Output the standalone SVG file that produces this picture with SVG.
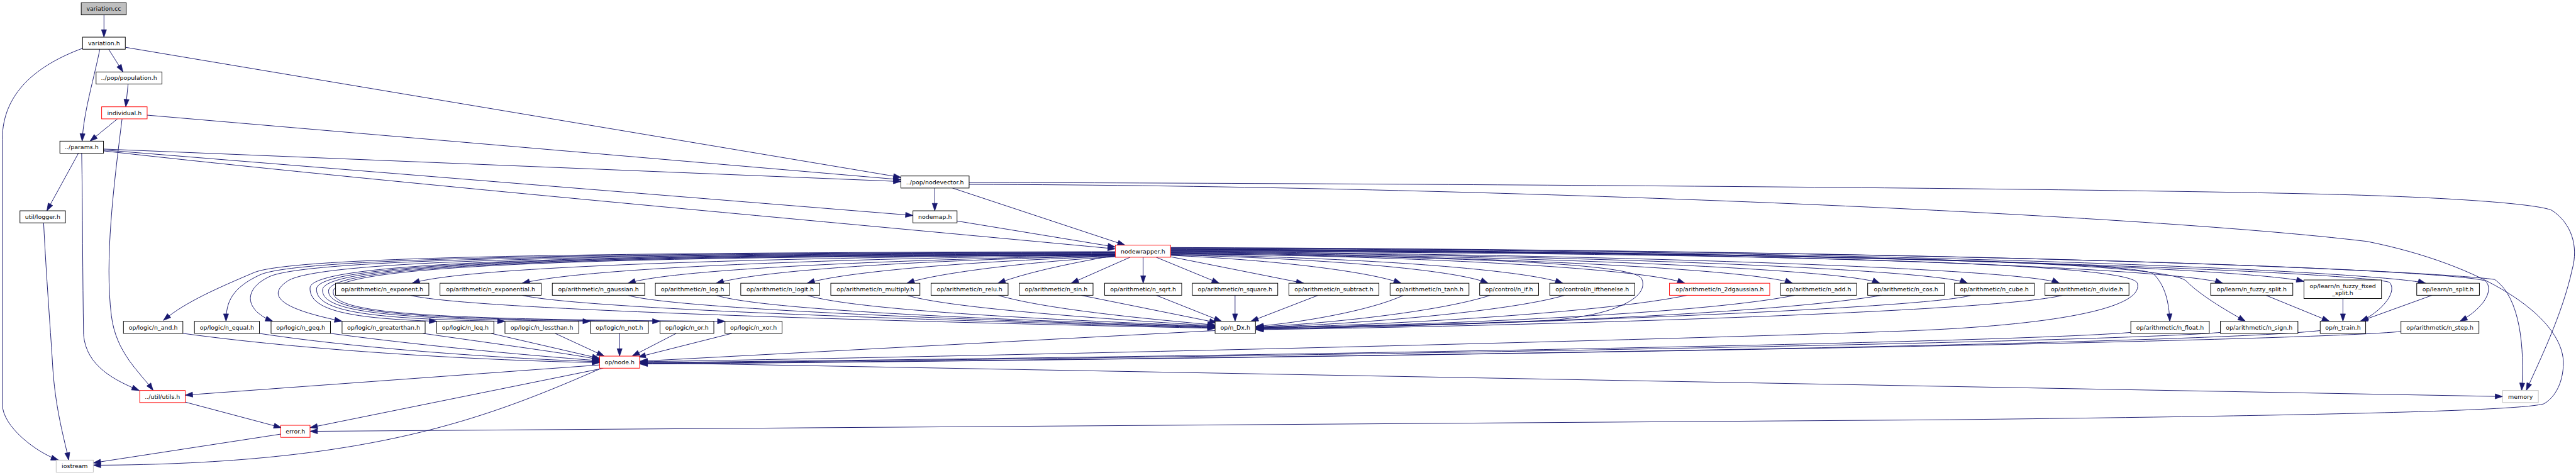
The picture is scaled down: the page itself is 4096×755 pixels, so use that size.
<svg xmlns="http://www.w3.org/2000/svg" width="4096" height="755" viewBox="0 0 4096 755">
<defs>
<style>
.e path{fill:none;stroke:#191970;stroke-width:1.3;marker-end:url(#ah)}
.nd rect{fill:#fff;stroke:#000;stroke-width:1.3}
.nd.red rect{stroke:#ff0000}
.nd.gray rect{stroke:#bfbfbf}
.nd.root rect{fill:#bfbfbf}
.nd text{font-family:"DejaVu Sans","Liberation Sans",sans-serif;font-size:12.8px;text-anchor:middle;fill:#000}
</style>
<marker id="ah" markerUnits="userSpaceOnUse" markerWidth="18" markerHeight="12" refX="16" refY="5.5" orient="auto" overflow="visible">
<path d="M0,0 L16,5.5 L0,11 z" fill="#191970" stroke="#191970" stroke-width="1"/>
</marker>
</defs>
<rect width="4096" height="755" fill="#fff"/>
<g transform="scale(0.738)">
<g id="edges" class="e">
<path d="M224,32 L224,80"/>
<path d="M234,106 L265,155"/>
<path d="M215,106 C205,160 180,240 177,304"/>
<path d="M178,104 C80,140 5,200 5,300 L5,870 C5,920 80,975 126,991"/>
<path d="M271,102 L1941,382"/>
<path d="M276,181 L271,230"/>
<path d="M253,256 L194,304"/>
<path d="M263,256 C245,400 225,560 240,680 C250,760 300,800 330,841"/>
<path d="M317,248 L1941,387"/>
<path d="M169,330 L101,454"/>
<path d="M176,330 C178,450 178,600 180,720 C185,790 250,820 300,841"/>
<path d="M223,321 L1941,391"/>
<path d="M223,323 L1967,464"/>
<path d="M223,325 C800,390 1700,470 2403,536"/>
<path d="M94,480 C100,600 108,700 113,780 C118,880 140,950 148,991"/>
<path d="M2014,405 L2014,454"/>
<path d="M2052,405 L2424,528"/>
<path d="M2088,393 C3000,395 4500,405 5040,419 C5300,426 5470,440 5498,453 C5540,480 5556,530 5542,580 C5520,680 5470,780 5443,841"/>
<path d="M2088,397 C3200,400 4600,460 5100,520 C5350,570 5520,680 5523,780 C5523,830 5500,860 5480,870 C5420,885 5000,895 4200,904 L668,929"/>
<path d="M2062,476 L2403,532"/>
<!-- nodewrapper to logic -->
<path d="M2403,542 C1300,544 620,552 545,588 C470,620 400,650 352,690"/>
<path d="M2403,543 C1300,545 640,555 560,592 C500,620 487,650 487,692"/>
<path d="M2403,544 C1300,546 660,558 580,596 C520,625 530,670 588,692"/>
<path d="M2403,545 C1300,547 690,560 620,605 C560,645 640,672 737,692"/>
<path d="M2403,546 C1300,548 670,562 668,620 C666,670 760,686 941,692"/>
<path d="M2403,547 C1300,549 685,564 682,622 C680,672 800,687 1088,692"/>
<path d="M2403,548 C1300,550 698,566 695,624 C692,674 850,688 1272,692"/>
<path d="M2403,549 C1300,551 710,568 708,626 C705,676 900,688 1422,692"/>
<path d="M2403,550 C1300,552 720,570 718,628 C715,678 950,688 1562,692"/>
<!-- nodewrapper to row A left -->
<path d="M2403,548 C1600,555 1000,575 888,610"/>
<path d="M2403,549 C1700,558 1250,580 1125,610"/>
<path d="M2403,550 C1900,560 1450,580 1353,610"/>
<path d="M2403,551 C2000,560 1650,580 1543,610"/>
<path d="M2403,552 C2100,562 1820,585 1739,610"/>
<path d="M2403,553 C2200,565 2010,590 1954,610"/>
<path d="M2403,550 Q2230,580 2150,610"/>
<path d="M2435,554 L2308,610"/>
<path d="M2463,554 L2463,610"/>
<path d="M2491,554 L2627,610"/>
<path d="M2522,553 L2809,610"/>
<!-- nodewrapper to right -->
<path d="M2522,550 C2750,560 2950,585 3019,610"/>
<path d="M2522,549 C2900,558 3150,585 3206,610"/>
<path d="M2522,548 C3000,556 3300,585 3367,610"/>
<path d="M2522,547 C3100,552 3520,565 3537,600 C3555,640 3480,680 3336,690 C3100,700 2900,703 2706,705"/>
<path d="M2522,546 C3100,552 3550,580 3630,610"/>
<path d="M2522,545 C3200,550 3780,580 3862,610"/>
<path d="M2522,544 C3300,550 3980,580 4050,610"/>
<path d="M2522,543 C3400,548 4170,580 4239,610"/>
<path d="M2522,542 C3500,547 4370,580 4437,610"/>
<path d="M2522,541 C3600,545 4590,560 4605,610 C4620,660 4450,700 4100,713 C3500,735 2000,770 1379,779"/>
<path d="M2522,540 C3700,544 4600,560 4640,590 C4665,615 4673,650 4675,692"/>
<path d="M2522,539 C3800,543 4660,560 4710,605 C4740,635 4790,665 4838,692"/>
<path d="M2522,538 C3900,542 4700,580 4789,610"/>
<path d="M2522,537 C4000,540 4850,580 4964,606"/>
<path d="M2522,536 C4200,545 5100,590 5148,608 C5165,625 5140,665 5087,692"/>
<path d="M2522,535 C4300,540 5150,590 5226,610"/>
<path d="M2522,534 C4400,540 5300,585 5355,605 C5375,625 5350,665 5300,692"/>
<path d="M2522,533 C4500,540 5300,590 5375,602 C5430,640 5440,750 5433,841"/>
<!-- row A to n_Dx -->
<path d="M884,636 C1000,665 1800,690 2618,707"/>
<path d="M1125,636 C1250,665 2000,690 2618,706"/>
<path d="M1353,636 C1450,665 2100,690 2618,705"/>
<path d="M1543,636 C1650,670 2200,690 2618,704"/>
<path d="M1739,636 C1850,670 2300,690 2618,703"/>
<path d="M1954,636 C2050,665 2400,688 2618,702"/>
<path d="M2150,636 C2250,665 2450,685 2618,700"/>
<path d="M2329,636 L2622,695"/>
<path d="M2491,636 L2632,692"/>
<path d="M2661,636 L2661,692"/>
<path d="M2840,636 L2695,692"/>
<path d="M3024,636 C2950,670 2800,695 2706,703"/>
<path d="M3211,636 C3100,672 2850,698 2706,704"/>
<path d="M3371,636 C3250,672 2900,700 2706,705"/>
<path d="M3635,636 C3450,675 2950,702 2706,706"/>
<path d="M3867,636 C3650,680 3000,702 2706,707"/>
<path d="M4054,636 C3800,680 3050,705 2706,708"/>
<path d="M4247,636 C4150,665 3200,700 2706,709"/>
<path d="M4444,636 C4300,672 3300,702 2706,710"/>
<!-- learn to n_train -->
<path d="M4882,636 L5019,692"/>
<path d="M5048,643 L5048,692"/>
<path d="M5240,636 L5085,692"/>
<!-- row B to node.h -->
<path d="M394,718 C700,760 1100,778 1292,781"/>
<path d="M558,718 C800,755 1150,775 1292,779"/>
<path d="M712,718 C950,750 1200,770 1292,777"/>
<path d="M911,718 C1100,745 1250,765 1292,775"/>
<path d="M1058,718 L1292,772"/>
<path d="M1196,718 L1302,767"/>
<path d="M1335,718 L1335,767"/>
<path d="M1457,718 L1362,767"/>
<path d="M1577,718 L1375,769"/>
<path d="M2618,712 L1379,778"/>
<path d="M4591,716 C4300,740 2500,770 1379,781"/>
<path d="M4784,716 C4500,740 2500,772 1379,782"/>
<path d="M4999,712 C4700,745 2500,775 1379,783"/>
<path d="M5173,714 C4900,740 2500,776 1379,784"/>
<!-- node.h out -->
<path d="M1292,786 L399,851"/>
<path d="M1300,793 L668,921"/>
<path d="M1296,793 C1050,900 800,1000 201,1002"/>
<path d="M1378,781 L5392,854"/>
<path d="M399,866 L606,921"/>
<path d="M605,935 L201,997"/>
</g>
<g id="variation_cc" class="nd root"><rect x="175" y="6" width="97" height="26"/><text x="223.5" y="23.5">variation.cc</text></g>
<g id="variation_h" class="nd"><rect x="178" y="80" width="92" height="26"/><text x="224" y="97.5">variation.h</text></g>
<g id="population_h" class="nd"><rect x="207" y="155" width="142" height="26"/><text x="278" y="172.5">../pop/population.h</text></g>
<g id="individual_h" class="nd red"><rect x="219" y="230" width="98" height="26"/><text x="268" y="247.5">individual.h</text></g>
<g id="params_h" class="nd"><rect x="129" y="304" width="94" height="26"/><text x="176" y="321.5">../params.h</text></g>
<g id="logger_h" class="nd"><rect x="43" y="454" width="98" height="26"/><text x="92" y="471.5">util/logger.h</text></g>
<g id="utils_h" class="nd red"><rect x="301" y="841" width="98" height="26"/><text x="350" y="858.5">../util/utils.h</text></g>
<g id="error_h" class="nd red"><rect x="605" y="916" width="63" height="26"/><text x="636.5" y="933.5">error.h</text></g>
<g id="iostream" class="nd gray"><rect x="121" y="991" width="80" height="26"/><text x="161" y="1008.5">iostream</text></g>
<g id="nodevector_h" class="nd"><rect x="1941" y="379" width="147" height="26"/><text x="2014.5" y="396.5">../pop/nodevector.h</text></g>
<g id="nodemap_h" class="nd"><rect x="1967" y="454" width="95" height="26"/><text x="2014.5" y="471.5">nodemap.h</text></g>
<g id="nodewrapper_h" class="nd red"><rect x="2403" y="528" width="119" height="26"/><text x="2462.5" y="545.5">nodewrapper.h</text></g>
<g id="node_h" class="nd red"><rect x="1292" y="767" width="86" height="26"/><text x="1335" y="784.5">op/node.h</text></g>
<g id="memory" class="nd gray"><rect x="5392" y="841" width="77" height="26"/><text x="5430.5" y="858.5">memory</text></g>
<g id="n_exponent" class="nd"><rect x="723" y="610" width="201" height="26"/><text x="823.5" y="627.5">op/arithmetic/n_exponent.h</text></g>
<g id="n_exponential" class="nd"><rect x="948" y="610" width="218" height="26"/><text x="1057" y="627.5">op/arithmetic/n_exponential.h</text></g>
<g id="n_gaussian" class="nd"><rect x="1190" y="610" width="199" height="26"/><text x="1289.5" y="627.5">op/arithmetic/n_gaussian.h</text></g>
<g id="n_log" class="nd"><rect x="1412" y="610" width="160" height="26"/><text x="1492" y="627.5">op/arithmetic/n_log.h</text></g>
<g id="n_logit" class="nd"><rect x="1596" y="610" width="170" height="26"/><text x="1681" y="627.5">op/arithmetic/n_logit.h</text></g>
<g id="n_multiply" class="nd"><rect x="1790" y="610" width="192" height="26"/><text x="1886" y="627.5">op/arithmetic/n_multiply.h</text></g>
<g id="n_relu" class="nd"><rect x="2006" y="610" width="166" height="26"/><text x="2089" y="627.5">op/arithmetic/n_relu.h</text></g>
<g id="n_sin" class="nd"><rect x="2196" y="610" width="159" height="26"/><text x="2275.5" y="627.5">op/arithmetic/n_sin.h</text></g>
<g id="n_sqrt" class="nd"><rect x="2380" y="610" width="166" height="26"/><text x="2463" y="627.5">op/arithmetic/n_sqrt.h</text></g>
<g id="n_square" class="nd"><rect x="2569" y="610" width="184" height="26"/><text x="2661" y="627.5">op/arithmetic/n_square.h</text></g>
<g id="n_subtract" class="nd"><rect x="2777" y="610" width="194" height="26"/><text x="2874" y="627.5">op/arithmetic/n_subtract.h</text></g>
<g id="n_tanh" class="nd"><rect x="2995" y="610" width="170" height="26"/><text x="3080" y="627.5">op/arithmetic/n_tanh.h</text></g>
<g id="n_if" class="nd"><rect x="3188" y="610" width="127" height="26"/><text x="3251.5" y="627.5">op/control/n_if.h</text></g>
<g id="n_ifthenelse" class="nd"><rect x="3339" y="610" width="183" height="26"/><text x="3430.5" y="627.5">op/control/n_ifthenelse.h</text></g>
<g id="n_2dgaussian" class="nd red"><rect x="3597" y="610" width="216" height="26"/><text x="3705" y="627.5">op/arithmetic/n_2dgaussian.h</text></g>
<g id="n_add" class="nd"><rect x="3836" y="610" width="164" height="26"/><text x="3918" y="627.5">op/arithmetic/n_add.h</text></g>
<g id="n_cos" class="nd"><rect x="4024" y="610" width="165" height="26"/><text x="4106.5" y="627.5">op/arithmetic/n_cos.h</text></g>
<g id="n_cube" class="nd"><rect x="4211" y="610" width="172" height="26"/><text x="4297" y="627.5">op/arithmetic/n_cube.h</text></g>
<g id="n_divide" class="nd"><rect x="4406" y="610" width="181" height="26"/><text x="4496.5" y="627.5">op/arithmetic/n_divide.h</text></g>
<g id="n_fuzzy_split" class="nd"><rect x="4763" y="610" width="177" height="26"/><text x="4851.5" y="627.5">op/learn/n_fuzzy_split.h</text></g>
<g id="n_fuzzy_fixed_split" class="nd"><rect x="4964" y="603" width="167" height="40"/><text x="5047.5" y="620">op/learn/n_fuzzy_fixed</text><text x="5047.5" y="635">_split.h</text></g>
<g id="n_split" class="nd"><rect x="5207" y="610" width="135" height="26"/><text x="5274.5" y="627.5">op/learn/n_split.h</text></g>
<g id="n_and" class="nd"><rect x="266" y="692" width="128" height="26"/><text x="330" y="709.5">op/logic/n_and.h</text></g>
<g id="n_equal" class="nd"><rect x="419" y="692" width="140" height="26"/><text x="489" y="709.5">op/logic/n_equal.h</text></g>
<g id="n_geq" class="nd"><rect x="584" y="692" width="128" height="26"/><text x="648" y="709.5">op/logic/n_geq.h</text></g>
<g id="n_greaterthan" class="nd"><rect x="737" y="692" width="179" height="26"/><text x="826.5" y="709.5">op/logic/n_greaterthan.h</text></g>
<g id="n_leq" class="nd"><rect x="941" y="692" width="123" height="26"/><text x="1002.5" y="709.5">op/logic/n_leq.h</text></g>
<g id="n_lessthan" class="nd"><rect x="1088" y="692" width="159" height="26"/><text x="1167.5" y="709.5">op/logic/n_lessthan.h</text></g>
<g id="n_not" class="nd"><rect x="1272" y="692" width="125" height="26"/><text x="1334.5" y="709.5">op/logic/n_not.h</text></g>
<g id="n_or" class="nd"><rect x="1422" y="692" width="116" height="26"/><text x="1480" y="709.5">op/logic/n_or.h</text></g>
<g id="n_xor" class="nd"><rect x="1562" y="692" width="123" height="26"/><text x="1623.5" y="709.5">op/logic/n_xor.h</text></g>
<g id="n_Dx" class="nd"><rect x="2618" y="692" width="87" height="26"/><text x="2661.5" y="709.5">op/n_Dx.h</text></g>
<g id="n_float" class="nd"><rect x="4591" y="692" width="169" height="26"/><text x="4675.5" y="709.5">op/arithmetic/n_float.h</text></g>
<g id="n_sign" class="nd"><rect x="4784" y="692" width="167" height="26"/><text x="4867.5" y="709.5">op/arithmetic/n_sign.h</text></g>
<g id="n_train" class="nd"><rect x="4999" y="692" width="98" height="26"/><text x="5048" y="709.5">op/n_train.h</text></g>
<g id="n_step" class="nd"><rect x="5173" y="692" width="168" height="26"/><text x="5257" y="709.5">op/arithmetic/n_step.h</text></g>
</g>
</svg>
